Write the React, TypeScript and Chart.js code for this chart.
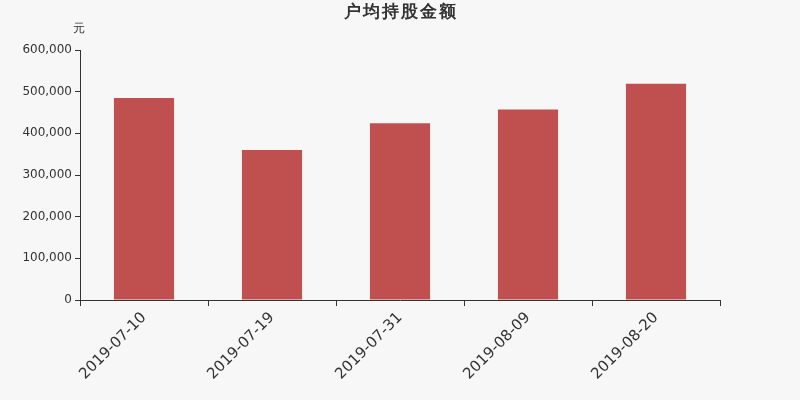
import React, { useEffect, useRef } from 'react';
import { Chart, registerables } from 'chart.js';

Chart.register(...registerables);

const categories = ['2019-07-10', '2019-07-19', '2019-07-31', '2019-08-09', '2019-08-20'];
const amounts = [484800, 360000, 424500, 457500, 519000];
const chartTitle = '户均持股金额';
const unitLabel = '元';

const FONT = '"DejaVu Sans", sans-serif';

// draws the title and the unit over the y axis
const textPlugin = {
    id: 'textPlugin',
    afterDraw(chart: Chart) {
        const { ctx } = chart;
        ctx.save();
        ctx.fillStyle = '#333';
        ctx.textAlign = 'center';
        ctx.textBaseline = 'middle';
        ctx.font = `bold 17px ${FONT}`;
        (ctx as any).letterSpacing = '2px';
        ctx.fillText(chartTitle, 401, 13);
        (ctx as any).letterSpacing = '0px';
        ctx.font = `12px ${FONT}`;
        ctx.fillText(unitLabel, 79, 29);
        ctx.restore();
    },
};

const App: React.FC = () => {
    const canvas = useRef<HTMLCanvasElement | null>(null);

    useEffect(() => {
        const el = canvas.current;
        if (!el) return;
        const chart = new Chart(el, {
            type: 'bar',
            data: {
                labels: categories,
                datasets: [
                    {
                        label: chartTitle,
                        data: amounts,
                        backgroundColor: '#c0504f',
                        barPercentage: 0.47,
                        categoryPercentage: 1,
                    },
                ],
            },
            options: {
                animation: false,
                responsive: false,
                layout: { padding: { top: 50, right: 80, left: 0, bottom: 0 } },
                plugins: {
                    legend: { display: false },
                    tooltip: { enabled: false },
                    title: { display: false },
                },
                scales: {
                    x: {
                        afterFit: (scale: any) => {
                            scale.height = 100;
                        },
                        border: { color: '#333', width: 1 },
                        grid: { display: true, drawOnChartArea: false, drawTicks: true, tickLength: 6, color: '#333', offset: true },
                        ticks: {
                            color: '#333',
                            font: { family: FONT, size: 15 },
                            minRotation: 45,
                            maxRotation: 45,
                            padding: 3,
                        },
                    },
                    y: {
                        min: 0,
                        max: 600000,
                        afterFit: (scale: any) => {
                            scale.width = 80;
                        },
                        border: { color: '#333', width: 1 },
                        grid: { display: true, drawOnChartArea: false, drawTicks: true, tickLength: 5, color: '#333' },
                        ticks: {
                            stepSize: 100000,
                            color: '#333',
                            font: { family: FONT, size: 12 },
                            padding: 3,
                            callback: (v: any) => Number(v).toLocaleString('en-US'),
                        },
                    },
                },
            },
            plugins: [textPlugin],
        });
        return () => {
            chart.destroy();
        };
    }, []);

    return (
        <div style={{ position: 'fixed', left: 0, top: 0, width: 800, height: 400, background: '#f7f7f7' }}>
            <canvas ref={canvas} width={800} height={400} style={{ width: 800, height: 400 }}></canvas>
        </div>
    );
};

export default App;
